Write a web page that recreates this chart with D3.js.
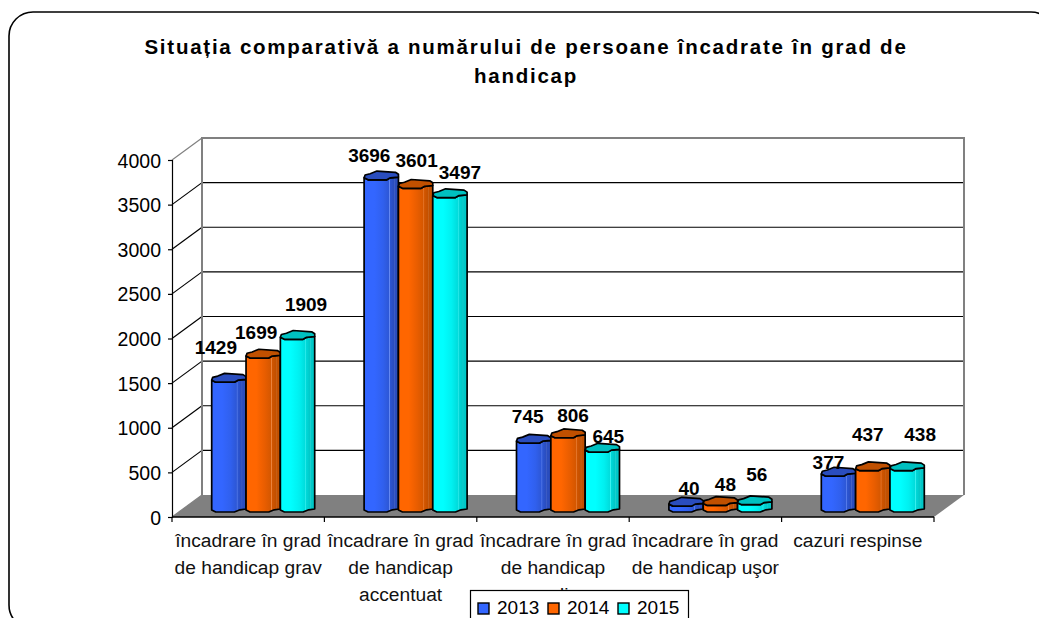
<!DOCTYPE html>
<html><head><meta charset="utf-8">
<script src="https://cdn.jsdelivr.net/npm/d3@7"></script>
<style>html,body{margin:0;padding:0;background:#fff;overflow:hidden}svg{display:block}text{font-family:"Liberation Sans",Arial,sans-serif;fill:#000}</style>
</head><body><svg id="c" width="1039" height="618"></svg>
<script>
const titleLines = ["Situația comparativă a numărului de persoane încadrate în grad de","handicap"];
const categories = ["încadrare în grad de handicap grav","încadrare în grad de handicap accentuat","încadrare în grad de handicap mediu","încadrare în grad de handicap uşor","cazuri respinse"];
const categoryLines = [["încadrare în grad","de handicap grav"],["încadrare în grad","de handicap","accentuat"],["încadrare în grad","de handicap","mediu"],["încadrare în grad","de handicap uşor"],["cazuri respinse"]];
const seriesNames = ["2013","2014","2015"];
const values2013 = [1429,3696,745,40,377];
const values2014 = [1699,3601,806,48,437];
const values2015 = [1909,3497,645,56,438];
const yTicks = [0,500,1000,1500,2000,2500,3000,3500,4000];
const seriesValues = [values2013,values2014,values2015];

// label placement offsets (layout only), [dx, dy] per series per category
const labelNudge = [
 [[-13,-24],[-12,-14],[-6,-16],[3,-7],[-10,-3]],
 [[-7,-15],[1,-17],[5,-11.5],[5,-10],[-5,-25.5]],
 [[8.5,-24],[10,-14],[6,-5],[2,-20],[13,-25.5]]
];
const palette = [
 {front:"#3366FF",mid:"#3060EE",side:"#2A4DBE",top:"#2A4DBE"},
 {front:"#FF6600",mid:"#E85D00",side:"#C25000",top:"#C05000"},
 {front:"#00FFFF",mid:"#00F0F0",side:"#00C8C8",top:"#00C0C0"}
];

const svg = d3.select("#c");
const defs = svg.append("defs");
palette.forEach((p,i)=>{
  const g = defs.append("linearGradient").attr("id","g"+i).attr("x1",0).attr("x2",1).attr("y1",0).attr("y2",0);
  [[0,p.front],[.3,p.front],[.55,p.mid],[.72,d3.interpolateRgb(p.mid,p.side)(.5)],[.74,d3.interpolateRgb(p.mid,"#fff")(.25)],[.76,d3.interpolateRgb(p.mid,p.side)(.6)],[.86,p.side],[.88,d3.interpolateRgb(p.side,"#fff")(.12)],[.9,p.side],[1,p.side]]
   .forEach(s=>g.append("stop").attr("offset",s[0]).attr("stop-color",s[1]));
});

// outer frame (runs past the picture on the right and at the bottom)
svg.append("rect").attr("x",9).attr("y",12).attr("width",1046).attr("height",617).attr("rx",24).attr("ry",24)
  .attr("fill","#fff").attr("stroke","#000").attr("stroke-width",1.6);

const left=172,right=934,y0=517,y4=160,depthX=30,depthY=22;
const x = d3.scaleBand().domain(categories).range([left,right]).paddingInner(0).paddingOuter(0);
const y = d3.scaleLinear().domain([0,4000]).range([y0,y4]);
const xInner = d3.scaleBand().domain(seriesNames).range([-51.5,51.5]);

// floor
svg.append("path").attr("fill","#808080")
  .attr("d",d3.line()([[left,y0],[left+depthX,y0-depthY],[right+depthX,y0-depthY],[right,y0]])+"Z");

// back grid
const grid = svg.append("g");
yTicks.slice(1).forEach(t=>{
  const yy=y(t)-depthY;
  if(t<4000) grid.append("line").attr("x1",left+depthX).attr("x2",right+depthX).attr("y1",yy).attr("y2",yy).attr("stroke","#000").attr("stroke-width",1.2);
  grid.append("line").attr("x1",left).attr("y1",y(t)).attr("x2",left+depthX).attr("y2",yy)
    .attr("stroke",t==4000?"#808080":"#000").attr("stroke-width",1.2);
});
svg.append("path").attr("fill","none").attr("stroke","#808080").attr("stroke-width",2)
  .attr("d",d3.line()([[left+depthX,y0-depthY],[left+depthX,y(4000)-depthY],[right+depthX,y(4000)-depthY],[right+depthX,y0-depthY]]));
svg.append("line").attr("x1",left).attr("y1",y0).attr("x2",left+depthX).attr("y2",y0-depthY).attr("stroke","#808080").attr("stroke-width",1.2);

// axes
const axisY = svg.append("g").attr("transform",`translate(${left},0)`).call(d3.axisLeft(y).tickValues(yTicks).tickSize(4).tickPadding(7).tickFormat(d3.format("d")));
axisY.selectAll("path,line").attr("stroke","#000").attr("stroke-width",1.2);
axisY.selectAll("text").attr("font-size",19.5).attr("dy","0.36em").style("font-family",'"Liberation Sans",Arial,sans-serif');
svg.append("line").attr("x1",left).attr("x2",right).attr("y1",y0).attr("y2",y0).attr("stroke","#000").attr("stroke-width",1.5);
d3.range(categories.length+1).forEach(i=>{
  const tx=left+i*x.step();
  svg.append("line").attr("x1",tx).attr("x2",tx).attr("y1",y0).attr("y2",y0+5).attr("stroke","#000").attr("stroke-width",1.2);
});
// category labels
categories.forEach((c,i)=>{
  const cx=x(c)+x.bandwidth()/2;
  categoryLines[i].forEach((l,j)=>{
    svg.append("text").attr("x",cx).attr("y",547+j*27).attr("text-anchor","middle").attr("font-size",19.2).style("fill","#111").text(l);
  });
});

// bars
const topOff=11.5, w=xInner.bandwidth();
function topShape(cx,cy){
  return d3.line()([[-17,2.2],[-13,4.2],[5.5,4.2],[9,2.2],[17,1.4],[17,-1.3],[14,-3.3],[-4.3,-4.6],[-11,-1.9],[-16,-0.6]].map(p=>[cx+p[0]*w/34,cy+p[1]]))+"Z";
}
function bodyShape(cx,cyTop,cyBot){
  const f=p=>[cx+p[0]*w/34,p[1]];
  return d3.line()([[-17,cyTop+2.2],[-13,cyTop+4.2],[5.5,cyTop+4.2],[9,cyTop+2.2],[17,cyTop+1.4],[17,cyBot+3.5],[11,cyBot+4.3],[5.5,cyBot+6.5],[-13,cyBot+6.5],[-17,cyBot+4.5]].map(f))+"Z";
}
seriesNames.forEach((s,si)=>{
  const g=svg.append("g");
  categories.forEach((c,ci)=>{
    const v=seriesValues[si][ci];
    const cx=x(c)+x.bandwidth()/2+depthX/2+xInner(s)+w/2;
    const cy=y(v)-topOff, cb=y(0)-topOff;
    g.append("path").attr("d",bodyShape(cx,cy,cb)).attr("fill",`url(#g${si})`).attr("stroke","#000").attr("stroke-width",1.7).attr("stroke-linejoin","round");
    g.append("path").attr("d",topShape(cx,cy)).attr("fill",palette[si].top).attr("stroke","#000").attr("stroke-width",1.7).attr("stroke-linejoin","round");
  });
});
// value labels
seriesNames.forEach((s,si)=>{
  categories.forEach((c,ci)=>{
    const v=seriesValues[si][ci];
    const cx=x(c)+x.bandwidth()/2+depthX/2+xInner(s)+w/2;
    const n=labelNudge[si][ci];
    svg.append("text").attr("x",cx+n[0]).attr("y",y(v)-topOff+n[1]).attr("text-anchor","middle")
      .attr("font-size",19).attr("font-weight","bold").text(v);
  });
});

// title
titleLines.forEach((l,i)=>{
  svg.append("text").attr("x",526).attr("y",54+i*29).attr("text-anchor","middle").attr("font-size",20.5).attr("font-weight","bold").attr("letter-spacing",1.75).text(l);
});

// legend
svg.append("rect").attr("x",470.5).attr("y",590.5).attr("width",218).attr("height",40).attr("fill","#fff").attr("stroke","#000").attr("stroke-width",1.2);
const legendX = d3.scalePoint().domain(seriesNames).range([478,618]);
seriesNames.forEach((s,i)=>{
  const lx=legendX(s);
  svg.append("rect").attr("x",lx).attr("y",603).attr("width",11).attr("height",11).attr("fill",palette[i].front).attr("stroke","#000").attr("stroke-width",1.4);
  svg.append("text").attr("x",lx+19).attr("y",614).attr("font-size",19).text(s);
});
</script></body></html>
